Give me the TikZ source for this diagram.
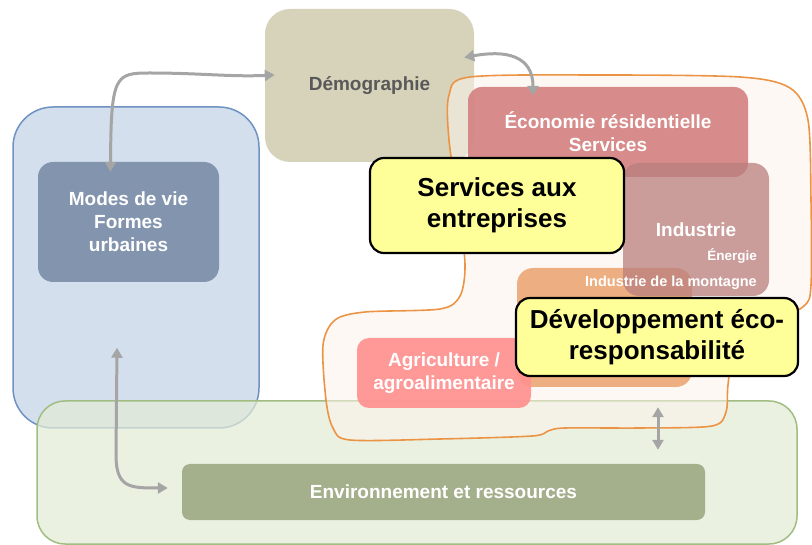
\documentclass[tikz,border=0pt]{standalone}
\usepackage{fontspec}
\setmainfont{Liberation Sans}
\usetikzlibrary{arrows.meta}

\definecolor{demfill}{HTML}{D6D3BA}
\definecolor{viefill}{HTML}{D3DFEC}
\definecolor{vieline}{HTML}{7092C2}
\definecolor{modesfill}{HTML}{8394AE}
\definecolor{ambfill}{HTML}{E3EBD5}
\definecolor{ambline}{HTML}{A2BD82}
\definecolor{envfill}{HTML}{A4AF8C}
\definecolor{ecofill}{HTML}{D58585}
\definecolor{indfill}{HTML}{B97E7E}
\definecolor{montfill}{HTML}{EDAF82}
\definecolor{agrifill}{HTML}{FF9191}
\definecolor{nuvfill}{HTML}{FCF3EA}
\definecolor{nuvline}{HTML}{EC9445}
\definecolor{gialfill}{HTML}{FFFF99}
\definecolor{frecgrey}{HTML}{A5A5A5}

\begin{document}
\begin{tikzpicture}[x=1pt, y=-1pt,
    blocco/.style={inner sep=0pt, align=center, text=white, font=\fontsize{19}{23}\selectfont\bfseries},
    giallo/.style={draw=black, line width=2.2pt, fill=gialfill, rounded corners=14pt, inner sep=0pt, align=center, font=\fontsize{26}{31}\selectfont\bfseries},
    piccolo/.style={inner sep=0pt, anchor=east, text=white, font=\bfseries},
    nuvola/.style={draw=nuvline, line width=1.6pt, fill=nuvfill, fill opacity=0.55},
    freccia/.style={draw=frecgrey, line width=3pt, {Triangle[length=10pt,width=11pt]}-{Triangle[length=10pt,width=11pt]}}]
    \useasboundingbox (0,0) rectangle (812,545);

    % Demografia
    \node[blocco, fill=demfill, text=black!65, rounded corners=25pt, minimum width=209pt, minimum height=153pt] at (369.5,85.5) (dem) {Démographie};

    % Modi di vita
    \node[draw=vieline, line width=1.5pt, fill=viefill, rounded corners=40pt, minimum width=246pt, minimum height=321pt] at (136,267.5) (vie) {};
    \node[blocco, fill=modesfill, rounded corners=15pt, minimum width=181pt, minimum height=120pt] at (128.5,222) (modes) {Modes de vie\\Formes\\urbaines};

    % Ambiente
    \node[draw=ambline, line width=1.5pt, fill=ambfill, fill opacity=0.72, rounded corners=28pt, minimum width=760pt, minimum height=143pt] at (417,472.5) (amb) {};
    \node[blocco, fill=envfill, rounded corners=8pt, minimum width=523pt, minimum height=56pt] at (443.5,492) (env) {Environnement et ressources};

    % Contorno arancione
    \draw[nuvola] plot[smooth cycle, tension=0.5] coordinates {
        (470,77) (600,75) (740,77) (790,88) (808,120) (811,200) (811,285)
        (804,306) (770,325) (735,350) (728,385) (726,412) (712,426) (640,428)
        (565,428) (548,431) (532,436) (440,439) (350,440) (333,428) (326,400) (323,345)
        (335,320) (365,312) (440,309) (460,296) (465,265) (459,210) (449,140) (449,95)};

    % Settori economici
    \node[blocco, fill=ecofill, fill opacity=0.95, text opacity=1, rounded corners=14pt, minimum width=280pt, minimum height=90pt] at (608,132) (eco) {Économie résidentielle\\Services};
    \node[blocco, fill=montfill, rounded corners=16pt, minimum width=175pt, minimum height=119pt] at (604.5,327.5) (mont) {};
    \node[blocco, fill=indfill, fill opacity=0.75, text opacity=1, rounded corners=16pt, minimum width=146pt, minimum height=133pt] at (696,229.5) (ind) {Industrie};
    \node[blocco, fill=agrifill, fill opacity=0.92, text opacity=1, rounded corners=12pt, minimum width=174pt, minimum height=70pt] at (444,373) (agri) {Agriculture /\\agroalimentaire};

    % Etichette piccole
    \node[piccolo, font=\fontsize{13.5}{16}\selectfont\bfseries] at (757,256) (energie) {Énergie};
    \node[piccolo, font=\fontsize{14.5}{17}\selectfont\bfseries] at (757,283) (monttxt) {Industrie de la montagne};

    % Frecce
    \draw[freccia] ([shift={(-18,10)}]modes.north) .. controls (111,75) and (115,73) .. (150,73) .. controls (200,73) and (230,77) .. ([shift={(10,-10.5)}]dem.west);
    \draw[freccia] ([shift={(-10,-28)}]dem.east) .. controls (505,50) and (533,55) .. ([shift={(-75,9)}]eco.north);
    \draw[freccia] ([shift={(-19,-81)}]vie.south) -- (116,455) .. controls (116,488) and (130,488) .. ([shift={(-14,-4)}]env.west);
    \draw[freccia] ([shift={(53.5,20)}]mont.south) -- ([shift={(214.5,-14)}]env.north);

    % Riquadri gialli
    \node[giallo, minimum width=254pt, minimum height=95pt] at (497,205.5) (serv) {Services aux\\entreprises};
    \node[giallo, minimum width=282pt, minimum height=78pt] at (657,337) (dev) {Développement éco-\\responsabilité};
\end{tikzpicture}
\end{document}
